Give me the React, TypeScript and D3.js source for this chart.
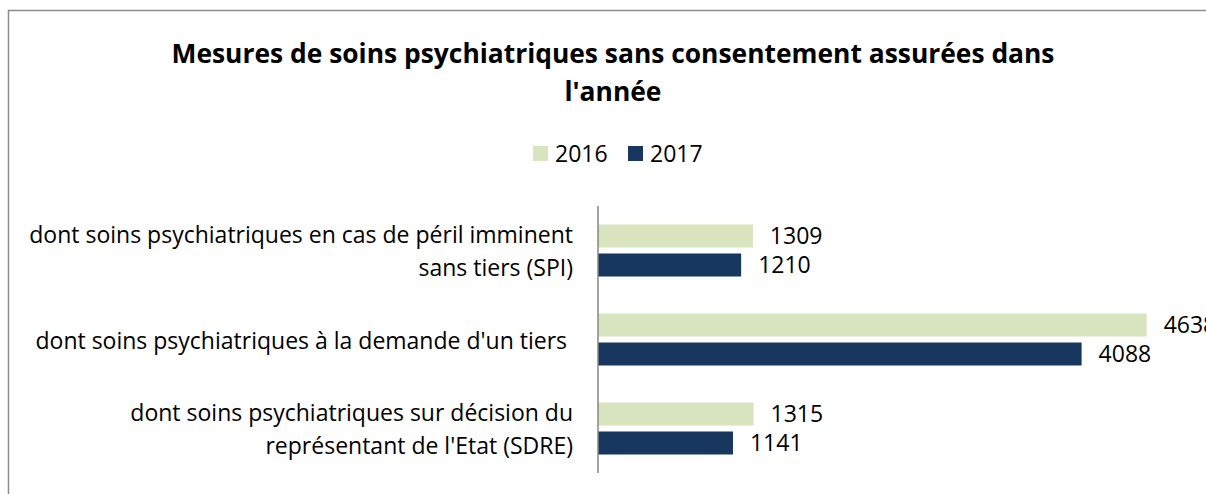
import React from 'react';
import * as d3 from 'd3';

const title = ['Mesures de soins psychiatriques sans consentement assurées dans', "l'année"];
const categories = ['SPI', 'SDT', 'SDRE'];
const categoryLabels = [
  ['dont soins psychiatriques en cas de péril imminent', 'sans tiers (SPI)'],
  ["dont soins psychiatriques à la demande d'un tiers\u00a0"],
  ['dont soins psychiatriques sur décision du', "représentant de l'Etat (SDRE)"],
];
const years = ['2016', '2017'];
const values2016 = [1309, 4638, 1315];
const values2017 = [1210, 4088, 1141];
const colors = ['#D7E4BD', '#17375E'];

const W = 1206;
const H = 494;
const FONT = "'Open Sans', sans-serif";

export default function App() {
  const x = d3.scaleLinear().domain([0, 5000]).range([598, 598 + 5000 * 0.1183]);
  const y = d3.scaleBand().domain(categories).range([206, 473]).padding(0);
  const sub = d3.scaleBand().domain(years).range([0, y.bandwidth()]).paddingInner(0.207).paddingOuter(0.638);
  const series = [values2016, values2017];

  return (
    <div style={{ position: 'fixed', left: 0, top: 0 }}>
      <svg width={W} height={H} style={{ display: 'block', fontFamily: FONT }}>
        <rect x={0} y={0} width={W} height={H} fill="#fff" />
        <rect x={8.5} y={10.5} width={W + 20} height={H + 20} fill="none" stroke="#8c8c8c" strokeWidth={1.5} />

        {title.map((t, i) => (
          <text key={i} x={613} y={63 + i * 38} textAnchor="middle" fontSize={26.4} fontWeight="bold" fill="#000">
            {t}
          </text>
        ))}

        {years.map((yr, i) => (
          <g key={yr} transform={`translate(${533 + i * 95},0)`}>
            <rect x={0} y={146} width={15} height={15} fill={colors[i]} />
            <text x={22} y={162} fontSize={23} fill="#000">{yr}</text>
          </g>
        ))}

        {categories.map((c, ci) => {
          const cy = (y(c) as number) + y.bandwidth() / 2;
          const lines = categoryLabels[ci];
          return (
            <g key={c}>
              {lines.map((l, li) => (
                <text
                  key={li}
                  x={573}
                  y={cy + (li - (lines.length - 1) / 2) * 33 + 1}
                  dy="0.35em"
                  textAnchor="end"
                  fontSize={23}
                  fill="#000"
                >
                  {l}
                </text>
              ))}
              {years.map((yr, si) => {
                const v = series[si][ci];
                const by = (y(c) as number) + (sub(yr) as number);
                return (
                  <g key={yr}>
                    <rect x={x(0)} y={by} width={x(v) - x(0)} height={sub.bandwidth()} fill={colors[si]} />
                    <text x={x(v) + 17} y={by + sub.bandwidth() / 2} dy="0.35em" fontSize={23} fill="#000">
                      {v}
                    </text>
                  </g>
                );
              })}
            </g>
          );
        })}

        <line x1={x(0)} x2={x(0)} y1={y.range()[0]} y2={y.range()[1]} stroke="#868686" strokeWidth={1.5} />
      </svg>
    </div>
  );
}
